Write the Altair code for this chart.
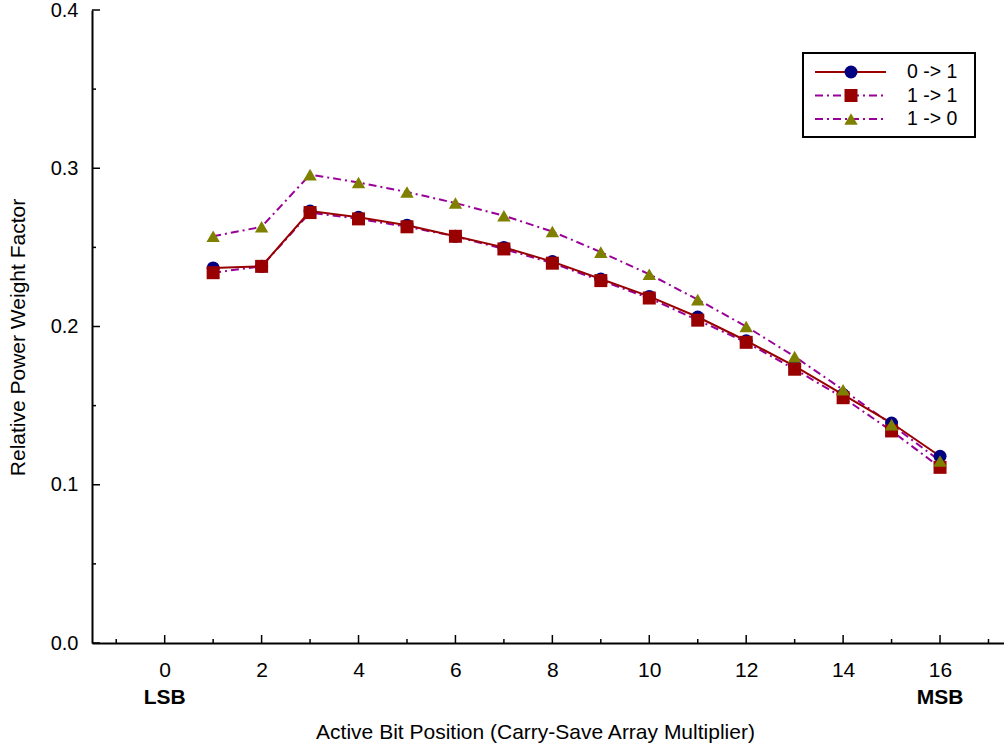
import altair as alt
import pandas as pd

# Relative power weight per active bit position, for each input transition
bits = list(range(1, 17))
rise_01 = [0.237, 0.238, 0.273, 0.269, 0.264, 0.257, 0.250, 0.241,
           0.230, 0.219, 0.206, 0.191, 0.175, 0.157, 0.139, 0.118]
hold_11 = [0.234, 0.238, 0.272, 0.268, 0.263, 0.257, 0.249, 0.240,
           0.229, 0.218, 0.204, 0.190, 0.173, 0.155, 0.134, 0.111]
fall_10 = [0.257, 0.263, 0.296, 0.291, 0.285, 0.278, 0.270, 0.260,
           0.247, 0.233, 0.217, 0.200, 0.181, 0.160, 0.138, 0.115]
series_names = ["0 -> 1", "1 -> 1", "1 -> 0"]

# Axis ticks and labels
y_major = [0.0, 0.1, 0.2, 0.3, 0.4]
y_minor = [0.05, 0.15, 0.25, 0.35]
x_major = [0, 2, 4, 6, 8, 10, 12, 14, 16]
x_minor = [-1, 1, 3, 5, 7, 9, 11, 13, 15, 17]
end_bits = [0, 16]
end_names = ["LSB", "MSB"]

FONT = "Liberation Sans"
FS = 21
W, H = 912, 633
RED = "#990000"
PURPLE = "#990099"
NAVY = "#000080"
OLIVE = "#808000"
DASHDOT = [8, 4, 2, 4]

xs = alt.Scale(domain=[-1.5, 17.32], nice=False, zero=False)
ys = alt.Scale(domain=[0, 0.4], nice=False, zero=True)

def frame(values):
    return pd.DataFrame({"bit": bits, "weight": values})

x_axis = alt.Axis(values=x_major, format="d", ticks=False, grid=False,
                  domainColor="black", domainWidth=2,
                  labelFont=FONT, labelFontSize=FS, labelColor="black",
                  labelPadding=16,
                  title="Active Bit Position (Carry-Save Array Multiplier)",
                  titleFont=FONT, titleFontSize=FS, titleFontWeight="normal",
                  titleColor="black", titlePadding=41, titleX=443)
y_axis = alt.Axis(values=y_major, format=".1f", ticks=False, grid=False,
                  domainColor="black", domainWidth=2,
                  labelFont=FONT, labelFontSize=20, labelColor="black",
                  labelPadding=14, labelBaseline="middle",
                  title="Relative Power Weight Factor",
                  titleFont=FONT, titleFontSize=FS, titleFontWeight="normal",
                  titleColor="black", titlePadding=22, titleY=327)

X = alt.X("bit:Q", scale=xs, axis=x_axis)
Y = alt.Y("weight:Q", scale=ys, axis=y_axis)

line_10 = alt.Chart(frame(fall_10)).mark_line(color=PURPLE, strokeWidth=2, strokeDash=DASHDOT).encode(x=X, y=Y)
line_11 = alt.Chart(frame(hold_11)).mark_line(color=PURPLE, strokeWidth=2, strokeDash=DASHDOT).encode(x=X, y=Y)
line_01 = alt.Chart(frame(rise_01)).mark_line(color=RED, strokeWidth=2).encode(x=X, y=Y)

pts_01 = alt.Chart(frame(rise_01)).mark_point(shape="circle", filled=True, fill=NAVY, size=169, opacity=1).encode(x=X, y=Y)
pts_11 = alt.Chart(frame(hold_11)).mark_point(shape="square", filled=True, fill=RED, size=169, opacity=1).encode(x=X, y=Y)
pts_10 = alt.Chart(frame(fall_10)).mark_point(shape="triangle-up", filled=True, fill=OLIVE, size=180, opacity=1).encode(x=X, y=Y)

# Inward-pointing tick marks on both axes
def yticks(vals, length):
    return alt.Chart(pd.DataFrame({"weight": vals})).mark_rule(color="black", strokeWidth=1.5).encode(
        y=Y, x=alt.value(0), x2=alt.value(length))

def xticks(vals, length):
    return alt.Chart(pd.DataFrame({"bit": vals})).mark_rule(color="black", strokeWidth=1.5).encode(
        x=X, y=alt.value(H), y2=alt.value(H - length))

ends = alt.Chart(pd.DataFrame({"bit": end_bits, "name": end_names})).mark_text(
    font=FONT, fontSize=FS, fontWeight="bold", color="black", baseline="middle", align="center"
).encode(x=X, y=alt.value(H + 55), text="name:N")

# Legend box
lx0, ly0 = 711, 43
legend_layers = [
    alt.Chart(pd.DataFrame({"k": [0]})).mark_rect(fill="white", stroke="black", strokeWidth=2).encode(
        x=alt.value(lx0), x2=alt.value(lx0 + 172), y=alt.value(ly0), y2=alt.value(ly0 + 84))
]
legend_styles = [
    (RED, None, "circle", NAVY, 169),
    (PURPLE, DASHDOT, "square", RED, 169),
    (PURPLE, DASHDOT, "triangle-up", OLIVE, 180),
]
for i, (name, (lc, dash, shp, fc, sz)) in enumerate(zip(series_names, legend_styles)):
    row = pd.DataFrame({"label": [name]})
    yy = ly0 + 19 + 23.5 * i
    rule_kw = dict(color=lc, strokeWidth=2)
    if dash:
        rule_kw["strokeDash"] = dash
    legend_layers.append(alt.Chart(row).mark_rule(**rule_kw).encode(
        x=alt.value(lx0 + 12), x2=alt.value(lx0 + 83), y=alt.value(yy)))
    legend_layers.append(alt.Chart(row).mark_point(shape=shp, filled=True, fill=fc, size=sz, opacity=1).encode(
        x=alt.value(lx0 + 48), y=alt.value(yy)))
    legend_layers.append(alt.Chart(row).mark_text(font=FONT, fontSize=19.5, color="black",
                                                  align="left", baseline="middle").encode(
        x=alt.value(lx0 + 104), y=alt.value(yy), text="label:N"))

chart = alt.layer(
    line_10, line_11, line_01, pts_01, pts_11, pts_10,
    yticks(y_major, 8), yticks(y_minor, 4), xticks(x_major, 8), xticks(x_minor, 4),
    ends, *legend_layers
).properties(
    width=W, height=H,
    autosize=alt.AutoSizeParams(type="none"),
    padding={"left": 92, "top": 10, "right": 0, "bottom": 105},
    background="white",
).configure_view(stroke=None)

chart.save("out.html", embed_options={"renderer": "svg", "actions": False})
